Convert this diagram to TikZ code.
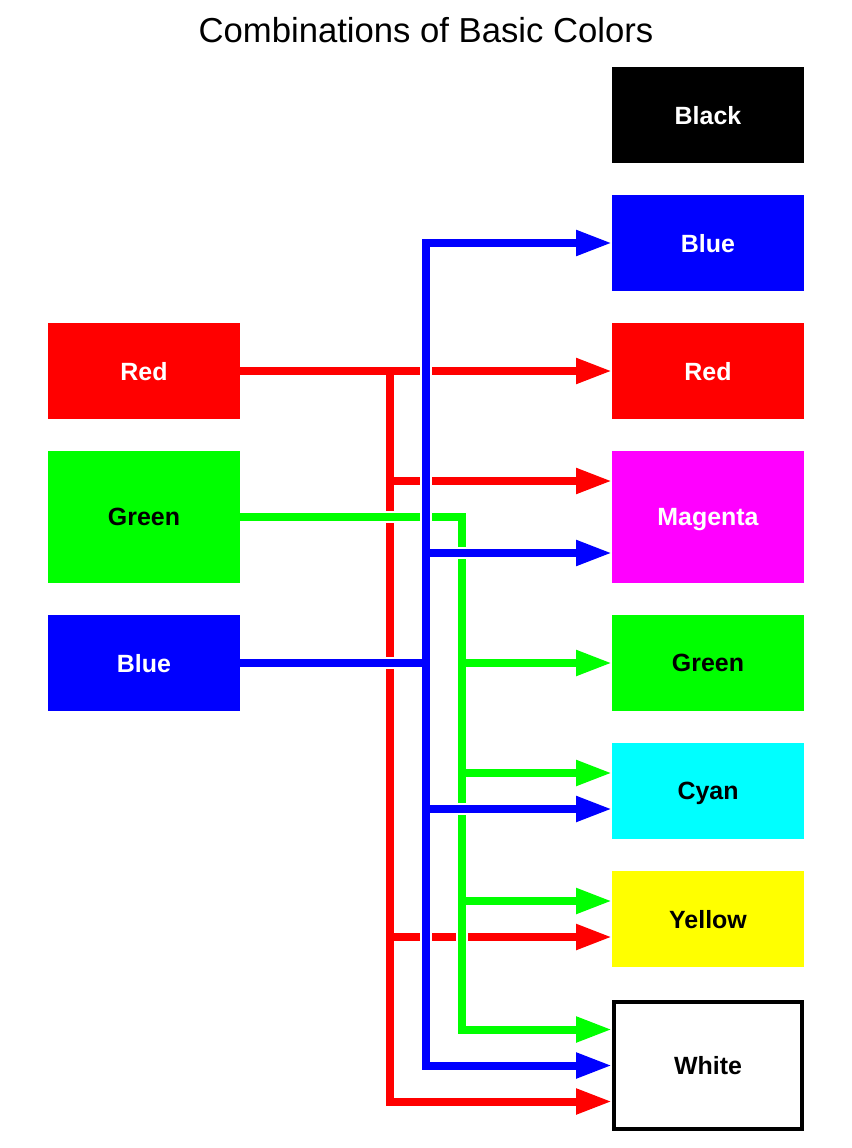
\documentclass[tikz,border=0pt]{standalone}
\usepackage{fontspec}
\setmainfont{Liberation Sans}
\usetikzlibrary{arrows.meta,calc}
\definecolor{cR}{HTML}{FF0000}
\definecolor{cG}{HTML}{00FF00}
\definecolor{cB}{HTML}{0000FF}
\definecolor{cM}{HTML}{FF00FF}
\definecolor{cC}{HTML}{00FFFF}
\definecolor{cY}{HTML}{FFFF00}
\begin{document}
\begin{tikzpicture}[x=0.75pt,y=-0.75pt,
  box/.style={minimum width=144pt,minimum height=72pt,inner sep=0pt,outer sep=0pt,text depth=0pt,font=\fontsize{18.7}{22}\selectfont\bfseries},
  tall/.style={minimum height=99pt},
  tip/.tip={Triangle[length=27pt,width=18pt]},
  conn/.style={line width=6pt,-tip},
  plain/.style={line width=6pt},
  under/.style={line width=9pt,draw=white}]
\useasboundingbox (0,0) rectangle (852,1148);
\fill[white] (0,0) rectangle (852,1148);
\node[font=\fontsize{26}{30}\selectfont,anchor=base] (title) at (426,43) {Combinations of Basic Colors};
% left boxes
\node[box,fill=cR,text=white] (lR) at (144,371) {Red};
\node[box,tall,fill=cG,text=black] (lG) at (144,517) {Green};
\node[box,fill=cB,text=white] (lB) at (144,663) {Blue};
% right boxes
\node[box,fill=black,text=white] (rK) at (708,115) {Black};
\node[box,fill=cB,text=white] (rB) at (708,243) {Blue};
\node[box,fill=cR,text=white] (rR) at (708,371) {Red};
\node[box,tall,fill=cM,text=white] (rM) at (708,517) {Magenta};
\node[box,fill=cG,text=black] (rG) at (708,663) {Green};
\node[box,fill=cC,text=black] (rC) at (708,791) {Cyan};
\node[box,fill=cY,text=black] (rY) at (708,919) {Yellow};
\node[box,draw=black,line width=3pt,minimum width=141pt,minimum height=95.25pt,outer sep=1.5pt] (rW) at (708,1065.5) {White};
% columns and targets
\coordinate (xr) at (390,0);
\coordinate (xb) at (426,0);
\coordinate (xg) at (462,0);
\coordinate (tRM) at ($(rM.west)+(0,-36)$);
\coordinate (tBM) at ($(rM.west)+(0,36)$);
\coordinate (tGC) at ($(rC.west)+(0,-18)$);
\coordinate (tBC) at ($(rC.west)+(0,18)$);
\coordinate (tGY) at ($(rY.west)+(0,-18)$);
\coordinate (tRY) at ($(rY.west)+(0,18)$);
\coordinate (tGW) at ($(rW.west)+(0,-36)$);
\coordinate (tBW) at (rW.west);
\coordinate (tRW) at ($(rW.west)+(0,36)$);
% red
\draw[cR,conn] (lR.east) -- (rR.west);
\draw[cR,conn] (xr |- lR.east) |- (tRW);
\draw[cR,conn] (xr |- tRM) -- (tRM);
\draw[cR,conn] (xr |- tRY) -- (tRY);
% green
\draw[under] (lG.east) -| (xg |- tGW) -- (tGW);
\draw[under] (xg |- rG.west) -- (rG.west);
\draw[under] (xg |- tGC) -- (tGC);
\draw[under] (xg |- tGY) -- (tGY);
\draw[cG,conn] (lG.east) -| (xg |- tGW) -- (tGW);
\draw[cG,conn] (xg |- rG.west) -- (rG.west);
\draw[cG,conn] (xg |- tGC) -- (tGC);
\draw[cG,conn] (xg |- tGY) -- (tGY);
% blue
\draw[under] (tBW) -| (xb |- rB.west) -- (rB.west);
\draw[under] (lB.east) -- (xb |- lB.east);
\draw[under] (xb |- tBM) -- (tBM);
\draw[under] (xb |- tBC) -- (tBC);
\draw[cB,line width=6pt,tip-tip] (tBW) -| (xb |- rB.west) -- (rB.west);
\draw[cB,plain] (lB.east) -- (xb |- lB.east);
\draw[cB,conn] (xb |- tBM) -- (tBM);
\draw[cB,conn] (xb |- tBC) -- (tBC);
\end{tikzpicture}
\end{document}
